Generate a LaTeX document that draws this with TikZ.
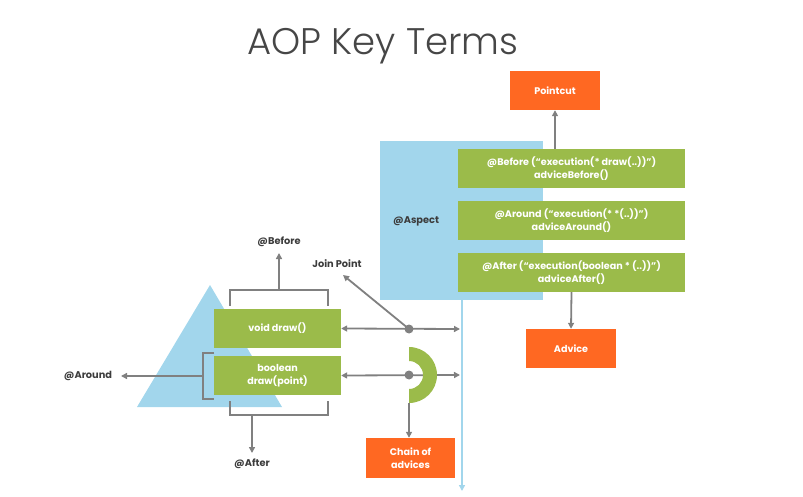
\documentclass[tikz,border=0pt]{standalone}
\usepackage{fontspec}
\setmainfont{Poppins}
\newfontfamily\titlefont{Poppins Light}
\usetikzlibrary{arrows.meta}

\definecolor{aopgreen}{RGB}{155,187,74}
\definecolor{aoporange}{RGB}{255,104,34}
\definecolor{aopblue}{RGB}{162,214,236}
\definecolor{aopgray}{RGB}{128,128,128}
\definecolor{aoptext}{RGB}{60,60,60}
\definecolor{aoptitle}{RGB}{70,70,70}

\begin{document}
\begin{tikzpicture}[x=1pt,y=-1pt,
  boxtext/.style={text=white, font=\bfseries\fontsize{9.6}{12.5}\selectfont, align=center, inner sep=0pt},
  greenbox/.style={boxtext, fill=aopgreen, minimum width=227pt, minimum height=39pt},
  codebox/.style={boxtext, fill=aopgreen, minimum width=127pt, minimum height=39pt},
  orangebox/.style={boxtext, fill=aoporange, minimum width=90pt, minimum height=39pt},
  lbl/.style={text=aoptext, font=\bfseries\fontsize{9.8}{11}\selectfont, inner sep=0pt},
  conn/.style={draw=aopgray, line width=1.8pt, -{Triangle[length=6pt,width=6pt]}},
  twoway/.style={draw=aopgray, line width=1.8pt, {Triangle[length=6pt,width=6pt]}-{Triangle[length=6pt,width=6pt]}},
  bracket/.style={draw=aopgray, line width=1.8pt},
  dot/.style={circle, fill=aopgray, minimum size=9pt, inner sep=0pt}
]
\useasboundingbox (0,0) rectangle (803,497);

% title
\node[font=\titlefont\fontsize{37}{42}\selectfont, text=aoptitle, inner sep=0pt] (title) at (383,46) {AOP Key Terms};

% aspect panel and the bus line below it
\node[fill=aopblue, minimum width=163pt, minimum height=159pt, inner sep=0pt] (aspect) at (461.5,220.5) {};
\node[lbl, anchor=west] (aspectlbl) at (393,221) {@Aspect};
\coordinate (busTop) at (462,298);
\coordinate (busEnd) at (462,491);
\draw[draw=aopblue, line width=1.8pt, -{Triangle[length=6pt,width=6pt]}] (busTop) -- (busEnd);

% advice declarations
\node[greenbox] (before) at (571.5,168.5) {@Before (“execution(* draw(..))”)\\adviceBefore()};
\node[greenbox] (around) at (571.5,220.5) {@Around (“execution(* *(..))”)\\adviceAround()};
\node[greenbox] (after) at (571.5,272.5) {@After (“execution(boolean * (..))”)\\adviceAfter()};

\node[orangebox] (pointcut) at (555,90.5) {Pointcut};
\node[orangebox] (advice) at (571,348.5) {Advice};
\draw[conn] (before.north -| pointcut) -- (pointcut.south);
\draw[conn] (after.south) -- (advice.north);

% target object
\fill[aopblue] (210,285) -- (282,407) -- (137,407) -- cycle;
\node[codebox] (voiddraw) at (277.5,328.5) {void draw()};
\node[codebox] (booldraw) at (277.5,375.5) {boolean\\draw(point)};

% @Before bracket
\draw[bracket] (230,306) -- (230,290) -- (328,290) -- (328,306);
\coordinate (bTop) at (279,290);
\node[lbl] (beforelbl) at (279,242) {@Before};
\draw[conn] (bTop) -- (279,253);

% @After bracket
\draw[bracket] (230,401) -- (230,415) -- (328,415) -- (328,401);
\coordinate (aBot) at (252,415);
\node[lbl] (afterlbl) at (252,464) {@After};
\draw[conn] (aBot) -- (252,453);

% @Around bracket
\draw[bracket] (214,353) -- (203,353) -- (203,399) -- (214,399);
\coordinate (arMid) at (203,376);
\node[lbl] (aroundlbl) at (88,376) {@Around};
\draw[conn] (arMid) -- (121,376);

% join point
\coordinate (jEnd) at (460,329);
\draw[twoway] (voiddraw.east) -- (jEnd);
\node[lbl] (joinlbl) at (337,264) {Join Point};
\node[dot] (jp) at (409,329) {};
\draw[conn] (jp.center) -- (343,275);

% around advice ring
\coordinate (rEnd) at (460,375);
\draw[twoway] (booldraw.east) -- (rEnd);
\fill[aopgreen] (409,347) arc[start angle=-90, end angle=90, radius=28]
  -- (409,389) arc[start angle=90, end angle=-90, radius=14] -- cycle;
\node[dot] (rp) at (409,375) {};
\coordinate (ringBot) at (409,403);
\node[orangebox, minimum width=89pt, minimum height=40pt] (chain) at (410.5,458) {Chain of\\advices};
\draw[conn] (ringBot) -- (ringBot |- chain.north);
\end{tikzpicture}
\end{document}
